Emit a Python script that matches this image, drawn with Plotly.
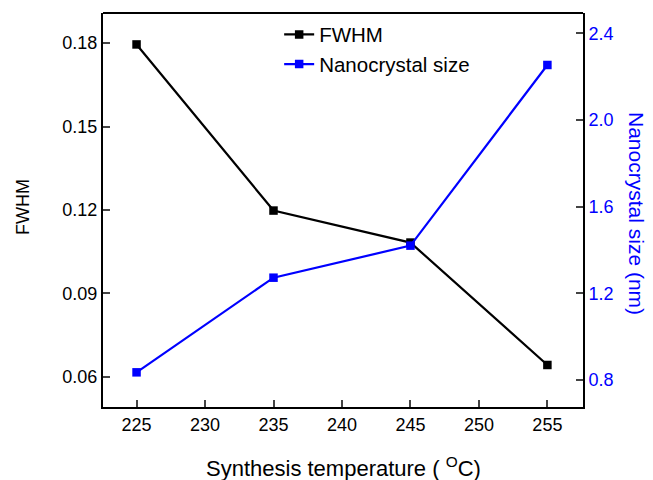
import plotly.graph_objects as go

# Synthesis temperature (°C)
temperature = [225, 235, 245, 255]
# Peak full width at half maximum
fwhm = [0.1795, 0.1198, 0.1083, 0.0643]
# Nanocrystal size (nm)
crystal_size = [0.835, 1.272, 1.42, 2.254]

x_ticks = [225, 230, 235, 240, 245, 250, 255]
fwhm_ticks = [0.06, 0.09, 0.12, 0.15, 0.18]
size_ticks = [0.8, 1.2, 1.6, 2.0, 2.4]

BLUE = "#0000FF"
FONT = "Liberation Sans, Arial, sans-serif"

fig = go.Figure()
fig.add_trace(go.Scatter(
    x=temperature, y=fwhm, name="FWHM", mode="lines+markers",
    line=dict(color="black", width=2.2),
    marker=dict(symbol="square", size=8.5, color="black"),
    yaxis="y",
))
fig.add_trace(go.Scatter(
    x=temperature, y=crystal_size, name="Nanocrystal size", mode="lines+markers",
    line=dict(color=BLUE, width=2.2),
    marker=dict(symbol="square", size=8.5, color=BLUE),
    yaxis="y2",
))

axis_common = dict(
    showline=True, linecolor="black", linewidth=2, mirror=False,
    ticks="inside", ticklen=7, tickwidth=1.5, showgrid=False, zeroline=False,
)

fig.update_layout(
    width=653, height=480,
    margin=dict(l=103, r=70, t=13, b=73),
    paper_bgcolor="white", plot_bgcolor="white",
    font=dict(family=FONT, size=18, color="black"),
    xaxis=dict(
        range=[222.55, 257.6], tickvals=x_ticks,
        tickfont=dict(size=18), **axis_common,
    ),
    yaxis=dict(
        range=[0.0492, 0.1908], tickvals=fwhm_ticks, tickformat=".2f",
        tickfont=dict(size=18), **axis_common,
    ),
    yaxis2=dict(
        range=[0.675, 2.494], tickvals=size_ticks, tickformat=".1f",
        overlaying="y", side="right", anchor="x",
        tickfont=dict(size=18, color=BLUE), **axis_common,
    ),
    legend=dict(
        x=0.367, y=0.996, xanchor="left", yanchor="top",
        bgcolor="rgba(0,0,0,0)", font=dict(size=20.5),
        tracegroupgap=0, itemwidth=30,
    ),
    showlegend=True,
)

# Top frame line closing the plot box
fig.add_shape(type="line", xref="paper", yref="paper", x0=0, x1=1, y0=1, y1=1,
              line=dict(color="black", width=2))

# Axis titles
fig.add_annotation(text="FWHM", xref="paper", yref="paper",
                   x=(23 - 103) / 480, y=(407 - 207) / 394,
                   xanchor="center", yanchor="middle",
                   textangle=-90, showarrow=False,
                   font=dict(size=18, color="black"))
fig.add_annotation(text="Nanocrystal size (nm)", xref="paper", yref="paper",
                   x=(637 - 103) / 480, y=(407 - 213) / 394,
                   xanchor="center", yanchor="middle",
                   textangle=90, showarrow=False,
                   font=dict(size=21, color=BLUE))
fig.add_annotation(text="Synthesis temperature ( <sup>O</sup>C)", xref="paper", yref="paper",
                   x=0.5, y=(407 - 467) / 394,
                   xanchor="center", yanchor="middle",
                   showarrow=False, font=dict(size=22, color="black"))

fig.write_html("out.html")
